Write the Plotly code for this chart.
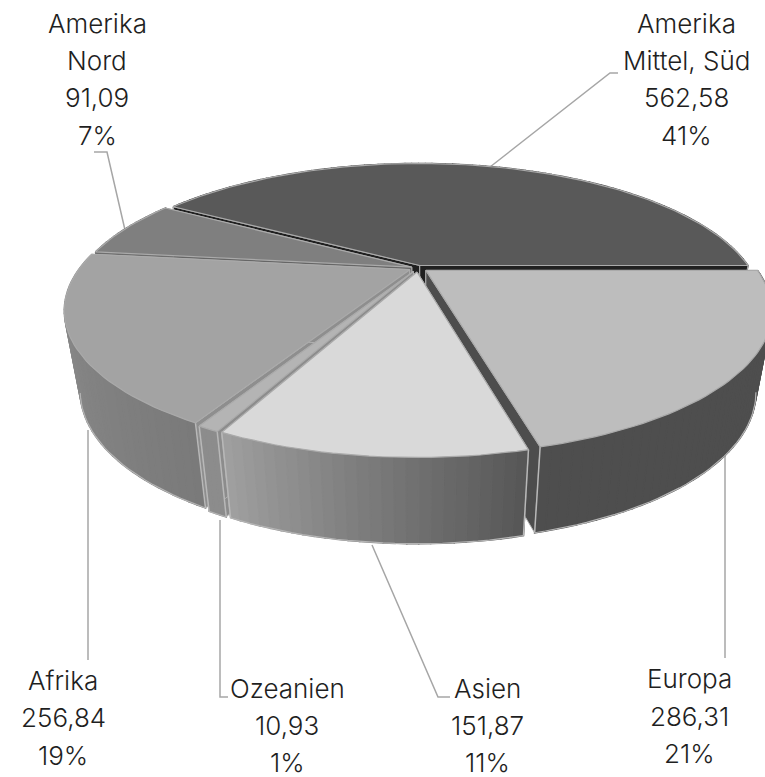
import math
import plotly.graph_objects as go

regions = ["Amerika Mittel, Süd", "Europa", "Asien", "Ozeanien", "Afrika", "Amerika Nord"]
values = [562.58, 286.31, 151.87, 10.93, 256.84, 91.09]
label_lines = [["Amerika", "Mittel, Süd"], ["Europa"], ["Asien"], ["Ozeanien"], ["Afrika"], ["Amerika", "Nord"]]

# styling
top_colors = ["#595959", "#bdbdbd", "#d9d9d9", "#b4b4b4", "#a3a3a3", "#7f7f7f"]
rim_from = [70, 78, 86, 140, 122, 110]      # grey at the clockwise start of each slice
rim_to = [70, 78, 160, 140, 145, 110]
cut_colors = ["#202020", "#4d4d4d", "#8c8c8c", "#8c8c8c", "#8e8e8e", "#666666"]
cuts_last = [True, False, False, False, False, False]
edge_ends = [[], [-1], [0, -1], [0, -1], [0], []]
explode = [0.02, 0.03, 0.03, 0.03, 0.028, 0.02]
draw_order = [0, 5, 4, 1, 3, 2]
label_x = [686, 689, 487, 287, 63, 97]
label_y = [[23, 60, 97, 135], [678, 716, 753], [688, 725, 762], [688, 725, 762], [680, 717, 755], [23, 60, 97, 135]]
leaders = [
    ([490, 610, 618], [167, 73, 73]),
    ([725, 725], [450, 658]),
    ([372, 438, 450], [545, 697, 697]),
    ([220, 220, 228], [520, 697, 697]),
    ([88, 88], [430, 660]),
    ([125, 107, 94], [230, 152, 152]),
]

CX, CY, A, B, K = 418, 268, 330, 131.5, 0.277
START = 90 - values[0] / sum(values) * 360


def top_point(u, v):
    w = 1 - K * v
    return CX + A * u / w, CY + B * v / w


def low_point(u, v):
    x, y = top_point(u, v)
    return CX + 0.955 * (x - CX), y + 78 + 8 * v


def grey(g):
    g = int(round(g))
    return f"rgb({g},{g},{g})"


def poly(fig, xs, ys, fill, line=None, width=1.5):
    fig.add_trace(go.Scatter(
        x=xs + xs[:1], y=ys + ys[:1], mode="lines", fill="toself", fillcolor=fill,
        line=dict(color=line or fill, width=width), hoverinfo="skip", showlegend=False))


def stroke(fig, pts, color="#b4b4b4", width=1.2):
    fig.add_trace(go.Scatter(x=[p[0] for p in pts], y=[p[1] for p in pts], mode="lines",
                             line=dict(color=color, width=width), hoverinfo="skip", showlegend=False))


fig = go.Figure()
total = sum(values)
spans = []
a = START
for v in values:
    spans.append((a, a + v / total * 360))
    a += v / total * 360

for xs, ys in leaders:
    stroke(fig, list(zip(xs, ys)), "#a6a6a6", 1.5)

for i in draw_order:
    a0, a1 = spans[i]
    mid = math.radians((a0 + a1) / 2)
    ou, ov = explode[i] * math.sin(mid), -explode[i] * math.cos(mid)
    n = max(3, int((a1 - a0) / 1.5))
    uv = []
    for k in range(n + 1):
        t = math.radians(a0 + (a1 - a0) * k / n)
        uv.append((ou + math.sin(t), ov - math.cos(t)))
    apex = (ou, ov)

    def draw_cuts():
        for p in (uv[0], uv[-1]):
            t0, t1 = top_point(*apex), top_point(*p)
            b0, b1 = low_point(*apex), low_point(*p)
            poly(fig, [t0[0], t1[0], b1[0], b0[0]], [t0[1], t1[1], b1[1], b0[1]],
                 cut_colors[i], "#b0b0b0", 1)

    if not cuts_last[i]:
        draw_cuts()

    # outer rim, banded, back to front
    for k in sorted(range(n), key=lambda j: uv[j][1] + uv[j + 1][1]):
        f = (k + 0.5) / n
        g = rim_from[i] + (rim_to[i] - rim_from[i]) * f
        p, q = uv[k], uv[k + 1]
        t0, t1 = top_point(*p), top_point(*q)
        b0, b1 = low_point(*p), low_point(*q)
        poly(fig, [t0[0], t1[0], b1[0], b0[0]], [t0[1], t1[1], b1[1], b0[1]], grey(g))
    lows = [low_point(*p) for p in uv]
    xs_low = [p[0] for p in lows]
    lo, hi = sorted((xs_low.index(min(xs_low)), xs_low.index(max(xs_low))))
    stroke(fig, lows[lo:hi + 1])
    for e in edge_ends[i]:
        stroke(fig, [top_point(*uv[e]), low_point(*uv[e])], "#b8b8b8", 1.5)

    if cuts_last[i]:
        draw_cuts()

    # top face
    pts = [top_point(*apex)] + [top_point(*p) for p in uv]
    poly(fig, [p[0] for p in pts], [p[1] for p in pts], top_colors[i], "#aaaaaa", 1.2)

annotations = []
for i, lines in enumerate(label_lines):
    full = lines + [f"{values[i]:.2f}".replace(".", ","), f"{round(values[i] / total * 100)}%"]
    for text, y in zip(full, label_y[i]):
        annotations.append(dict(x=label_x[i], y=y, text=text, showarrow=False, xanchor="center",
                                yanchor="middle", font=dict(family="Inter", size=26, weight=300, color="#1f1f1f")))

fig.update_layout(
    width=765, height=777, margin=dict(l=0, r=0, t=0, b=0), autosize=False,
    paper_bgcolor="white", plot_bgcolor="white", showlegend=False, annotations=annotations,
    xaxis=dict(range=[0, 765], visible=False, fixedrange=True),
    yaxis=dict(range=[777, 0], visible=False, fixedrange=True),
)
fig.write_html("out.html", config=dict(displayModeBar=False),
               post_script="document.body.style.margin='0';document.documentElement.style.overflow='hidden';")
